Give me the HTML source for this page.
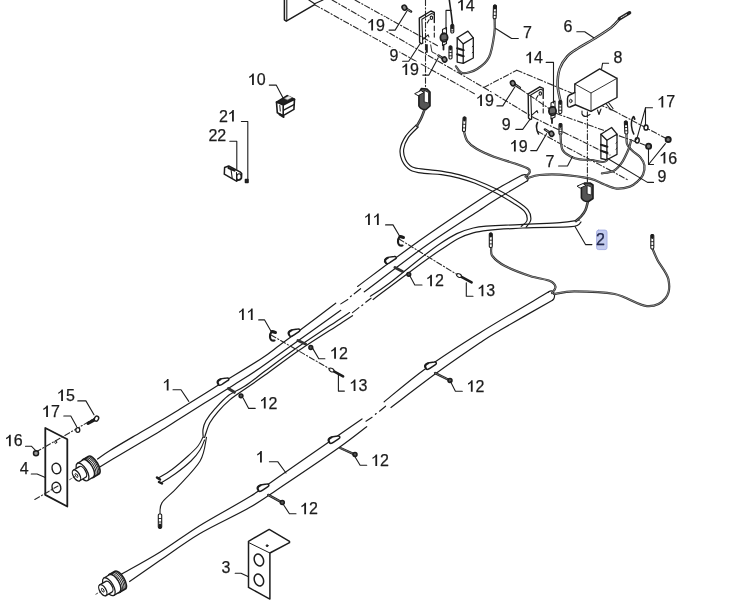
<!DOCTYPE html>
<html><head><meta charset="utf-8"><style>
html,body{margin:0;padding:0;background:#fff;width:743px;height:603px;overflow:hidden}
svg{display:block;will-change:transform}
text{font-family:"Liberation Sans",sans-serif;fill:#1c1c1c;stroke:#1c1c1c;stroke-width:0.25px}
</style></head><body>
<svg width="743" height="603" viewBox="0 0 743 603">
<g fill="none" stroke="#1c1c1c" stroke-linecap="round" stroke-linejoin="round">
<path d="M97.5,459.0 C99.6,457.6 102.9,454.9 110.0,450.5 C117.1,446.1 131.7,437.6 140.0,432.7 C148.3,427.8 153.3,425.1 160.0,421.1 C166.7,417.2 170.2,415.0 180.0,409.0 C189.8,403.0 205.2,393.2 218.5,385.0 C231.8,376.8 249.8,366.1 260.0,359.5 C270.2,352.9 273.3,349.8 279.6,345.2 C285.9,340.6 288.5,338.8 297.9,331.8 C307.2,324.8 329.4,308.0 335.7,303.2" stroke-width="1.2" />
<path d="M357.6,286.4 C368.0,278.7 399.6,254.7 420.0,240.2 C440.4,225.7 466.7,208.2 480.0,199.4 C493.3,190.6 493.0,191.2 500.0,187.2 C507.0,183.2 518.3,177.2 522.0,175.2" stroke-width="1.2" />
<path d="M99.8,467.0 C103.2,464.9 113.4,458.7 120.1,454.7 C126.8,450.7 133.3,446.9 140.0,443.0 C146.7,439.1 153.3,435.3 160.0,431.2 C166.7,427.1 172.8,423.1 180.0,418.6 C187.2,414.1 193.9,409.7 203.0,404.0 C212.1,398.3 225.0,390.5 234.5,384.5 C244.0,378.5 250.1,374.8 260.0,368.0 C269.9,361.2 280.4,353.4 293.9,343.8 C307.4,334.2 333.0,315.9 340.8,310.3" stroke-width="1.2" />
<path d="M364.3,291.8 C374.8,284.0 407.7,258.6 427.0,245.0 C446.3,231.3 467.8,217.9 480.0,209.9 C492.2,201.9 492.3,201.8 500.0,197.1 C507.7,192.4 521.8,184.1 526.2,181.5" stroke-width="1.2" />
<path d="M522,175.2 Q527,173 528,178 Q528.5,181 526.2,181.5" stroke-width="1.2" />
<path d="M203.2,437.5 C203.2,436.2 202.6,432.5 203.0,429.7 C203.4,426.9 203.9,424.3 205.9,420.8 C207.9,417.3 211.2,413.0 214.9,408.9 C218.6,404.8 222.8,399.7 227.8,395.9 C232.8,392.1 238.8,390.1 245.0,386.0 C251.2,381.9 256.4,377.5 265.0,371.1 C273.6,364.7 284.4,356.5 296.9,347.8 C309.4,339.1 331.2,324.8 340.0,318.9 C348.8,313.0 347.9,313.7 349.5,312.6" stroke-width="1.2" />
<path d="M204.6,437.5 C204.9,436.5 205.5,434.1 206.4,431.7 C207.3,429.2 208.0,426.1 209.9,422.8 C211.8,419.5 214.6,415.6 217.9,411.8 C221.2,408.0 225.3,403.7 229.8,399.9 C234.3,396.1 239.1,393.1 245.0,389.0 C250.9,384.9 255.8,381.6 265.0,375.1 C274.1,368.6 287.4,358.3 299.9,349.8 C312.4,341.3 331.2,329.6 340.0,323.9 C348.8,318.2 350.4,317.1 352.5,315.7" stroke-width="1.2" />
<path d="M370.4,296.2 C373.7,294.0 378.4,291.6 390.0,282.8 C401.6,274.1 426.1,252.8 440.0,243.7 C453.9,234.6 459.9,231.2 473.2,228.0 C486.5,224.8 505.1,225.5 519.6,224.6 C534.1,223.7 550.0,223.5 560.0,222.7 C570.0,221.9 576.3,220.4 579.6,220.0" stroke-width="1.2" />
<path d="M373.1,299.5 C375.9,297.4 378.9,295.0 390.0,286.8 C401.1,278.6 426.1,259.3 440.0,250.3 C453.9,241.3 459.4,236.6 473.2,232.9 C487.0,229.2 506.5,229.0 522.9,228.0 C539.3,227.0 561.8,227.7 571.5,226.7 C581.2,225.7 579.4,222.8 581.0,222.0" stroke-width="1.2" />
<path d="M202.8,437.5 C202.0,438.9 200.5,442.9 198.0,446.0 C195.5,449.1 192.3,452.1 188.0,456.0 C183.7,459.9 177.1,465.7 172.0,469.5 C166.9,473.3 159.8,477.1 157.3,478.6" stroke-width="1.1" />
<path d="M204.5,440.0 C203.8,441.7 202.2,446.5 200.0,450.0 C197.8,453.5 195.2,457.0 191.0,461.0 C186.8,465.0 180.1,470.3 175.0,474.0 C169.9,477.7 162.9,481.8 160.5,483.3" stroke-width="1.1" />
<path d="M206.5,437.3 C205.4,441.2 205.1,452.5 200.1,461.0 C195.1,469.5 182.8,481.3 176.4,488.3 C170.0,495.3 164.6,498.6 161.9,502.9 C159.2,507.1 160.3,512.0 160.0,513.8" stroke-width="1.1" />
<path d="M157,477.5 L160,479.5" stroke-width="2.5" />
<path d="M159,482 L162,483.5" stroke-width="2.5" />
<rect x="158.3" y="514" width="3.4" height="14" rx="1" fill="#fff" stroke-width="1.1"/>
<path d="M160,525 L160,527.5" stroke-width="3" />
<path d="M158.6,518.5 L161.4,518.5 M158.6,522 L161.4,522" stroke-width="0.9" />
<path d="M121.3,574.3 C127.7,570.6 146.8,560.4 159.8,552.3 C172.9,544.2 184.6,535.0 199.6,525.7 C214.6,516.4 236.1,505.1 250.0,496.5 C263.9,487.9 269.9,483.0 283.2,473.8 C296.5,464.6 316.5,450.6 329.6,441.5 C342.7,432.4 356.6,422.7 362.0,418.9" stroke-width="1.2" />
<path d="M129.6,581.5 C134.6,578.0 148.1,568.6 159.8,560.6 C171.5,552.6 184.6,542.6 199.6,533.7 C214.6,524.8 235.8,515.5 250.0,507.3 C264.2,499.1 269.9,494.6 284.8,484.6 C299.7,474.6 325.9,457.0 339.5,447.3 C353.1,437.6 362.2,430.1 366.7,426.7" stroke-width="1.2" />
<path d="M384.2,401.8 C391.1,396.2 409.8,379.9 425.8,368.4 C441.8,356.9 459.6,345.4 480.0,332.7 C500.4,320.0 537.0,298.9 548.4,292.1" stroke-width="1.2" />
<path d="M391.0,407.5 C398.6,401.8 421.7,383.9 436.5,373.1 C451.3,362.3 469.4,350.0 480.0,342.8 C490.6,335.6 487.9,337.3 500.0,330.2 C512.1,323.1 543.8,305.2 552.5,300.2" stroke-width="1.2" />
<path d="M548.4,292.1 Q553,289 554.5,294 Q555,298.5 552.5,300.2" stroke-width="1.2" />
<path d="M418.2,127.0 C416.6,128.7 410.8,133.7 408.4,137.4 C406.0,141.1 404.2,145.3 403.7,149.0 C403.2,152.7 404.1,156.5 405.5,159.5 C406.9,162.5 409.1,165.3 412.4,167.0 C415.7,168.7 420.4,168.7 425.2,169.4 C430.0,170.1 435.8,170.2 441.4,171.1 C447.0,172.0 453.3,173.1 458.9,174.6 C464.5,176.1 468.5,177.3 475.0,179.8 C481.5,182.3 491.2,186.4 498.0,189.8 C504.8,193.2 511.0,197.2 516.0,200.5 C521.0,203.8 525.3,206.5 527.8,209.7 C530.3,212.9 531.1,216.8 530.8,219.7 C530.5,222.6 527.0,225.9 526.2,227.1" stroke-width="1.2" />
<path d="M415.9,125.2 C414.2,127.1 408.1,132.3 405.5,136.3 C402.9,140.3 400.8,144.9 400.2,149.0 C399.6,153.1 400.4,157.1 402.0,160.6 C403.6,164.1 406.4,167.8 410.1,169.9 C413.8,172.0 418.8,172.6 424.0,173.4 C429.2,174.2 435.6,173.8 441.4,174.6 C447.2,175.4 453.3,176.6 458.9,178.1 C464.5,179.6 468.8,180.8 475.0,183.3 C481.2,185.8 490.1,189.9 496.4,193.2 C502.7,196.5 508.3,200.0 513.0,203.0 C517.7,206.0 522.2,208.5 524.5,211.4 C526.8,214.3 527.5,218.0 527.0,220.5 C526.5,223.0 522.2,225.3 521.2,226.3" stroke-width="1.2" />
<path d="M340.8,303.9 L347.8,299.5" stroke-width="1.1" />
<path d="M354.2,293.8 L360.6,288.7" stroke-width="1.1" />
<path d="M352.5,312.6 L358.9,307.6" stroke-width="1.1" />
<path d="M365.7,302.2 L371,298.2" stroke-width="1.1" />
<path d="M366,421.3 L372.1,417.3" stroke-width="1.1" />
<path d="M379.5,411.2 L385.6,406.2" stroke-width="1.1" />
<path d="M350.5,296.5 L351.29999999999995,295.9" stroke-width="1.3" />
<path d="M361.90000000000003,305.5 L362.7,304.9" stroke-width="1.3" />
<path d="M375.40000000000003,414.2 L376.2,413.59999999999997" stroke-width="1.3" />
<path d="M424.9,108.5 C424.3,110.0 422.8,114.6 421.5,117.5 C420.2,120.4 417.7,124.4 416.9,125.8" stroke-width="2.6" stroke="#2a2a2a"/>
<path d="M424.9,108.5 C424.3,110.0 422.8,114.6 421.5,117.5 C420.2,120.4 417.7,124.4 416.9,125.8" stroke-width="0.7" stroke="#fff" stroke-opacity="0.5"/>
<path d="M418.9,93 L418.9,106 Q421,110 426,109.5 L430,106 L430,92 L427,89 L421.5,88.5 Z" stroke-width="1.6" fill="#555"/>
<path d="M424.5,90.5 L428.5,92.5 L428.5,103 L424.5,102 Z" stroke-width="0.8" fill="#fff"/>
<path d="M415,93.5 L421,90.5 L424,92.5 L418.5,95.5 Z" stroke-width="1.0" fill="#fff"/>
<path d="M587.9,201.5 C587.5,202.9 586.6,207.5 585.5,210.0 C584.4,212.5 582.6,214.7 581.0,216.5 C579.4,218.3 576.8,220.2 576.0,221.0" stroke-width="2.6" stroke="#2a2a2a"/>
<path d="M587.9,201.5 C587.5,202.9 586.6,207.5 585.5,210.0 C584.4,212.5 582.6,214.7 581.0,216.5 C579.4,218.3 576.8,220.2 576.0,221.0" stroke-width="0.7" stroke="#fff" stroke-opacity="0.5"/>
<path d="M581.4,186 L581.4,198 Q583.5,202 588.5,201.5 L593,198.5 L593,185 L590,183 L584.5,183 Z" stroke-width="1.6" fill="#555"/>
<path d="M587.4,185.6 L591.3,187 L591.3,195 L587.4,194 Z" stroke-width="0.8" fill="#fff"/>
<path d="M577.4,186 L583,183.5 L586,185.5 L580.5,188 Z" stroke-width="1.0" fill="#fff"/>
<path d="M527.0,178.2 C529.1,177.7 534.0,175.6 539.5,175.0 C545.0,174.4 551.6,174.0 560.0,174.6 C568.4,175.2 582.8,177.0 590.0,178.6 C597.2,180.2 598.9,182.3 603.3,184.0 C607.7,185.7 612.1,188.2 616.5,188.6 C620.9,189.0 626.3,187.8 629.8,186.6 C633.3,185.4 635.5,183.3 637.7,181.3 C639.9,179.3 641.9,177.3 643.0,174.7 C644.1,172.0 644.8,168.3 644.4,165.4 C644.0,162.5 642.4,159.8 640.4,157.4 C638.4,155.0 634.6,153.0 632.4,150.8 C630.2,148.6 628.1,147.1 627.1,144.2 C626.1,141.3 626.6,135.4 626.5,133.6" stroke-width="2.2" stroke="#2a2a2a"/>
<path d="M527.0,178.2 C529.1,177.7 534.0,175.6 539.5,175.0 C545.0,174.4 551.6,174.0 560.0,174.6 C568.4,175.2 582.8,177.0 590.0,178.6 C597.2,180.2 598.9,182.3 603.3,184.0 C607.7,185.7 612.1,188.2 616.5,188.6 C620.9,189.0 626.3,187.8 629.8,186.6 C633.3,185.4 635.5,183.3 637.7,181.3 C639.9,179.3 641.9,177.3 643.0,174.7 C644.1,172.0 644.8,168.3 644.4,165.4 C644.0,162.5 642.4,159.8 640.4,157.4 C638.4,155.0 634.6,153.0 632.4,150.8 C630.2,148.6 628.1,147.1 627.1,144.2 C626.1,141.3 626.6,135.4 626.5,133.6" stroke-width="0.6" stroke="#fff" stroke-opacity="0.75"/>
<path d="M525.6,176.6 C526.3,175.9 529.2,173.9 529.6,172.6 C530.0,171.3 530.4,170.1 528.2,168.7 C526.0,167.3 522.0,166.0 516.3,164.0 C510.6,162.0 500.4,159.2 493.8,156.7 C487.2,154.2 480.9,151.5 476.5,148.8 C472.1,146.2 469.3,143.8 467.2,140.8 C465.1,137.8 464.4,132.6 463.9,131.0" stroke-width="2.2" stroke="#2a2a2a"/>
<path d="M525.6,176.6 C526.3,175.9 529.2,173.9 529.6,172.6 C530.0,171.3 530.4,170.1 528.2,168.7 C526.0,167.3 522.0,166.0 516.3,164.0 C510.6,162.0 500.4,159.2 493.8,156.7 C487.2,154.2 480.9,151.5 476.5,148.8 C472.1,146.2 469.3,143.8 467.2,140.8 C465.1,137.8 464.4,132.6 463.9,131.0" stroke-width="0.6" stroke="#fff" stroke-opacity="0.75"/>
<g transform="translate(464.6,117) rotate(2.7638573709127376)"><rect x="-1.5" y="0" width="3" height="14.5" rx="1.2" fill="#fff" stroke-width="1.1"/><path d="M0,0.9 L0,3" stroke-width="2.8"/><path d="M-1.3,7.3 L1.3,7.3 M-1.3,10.9 L1.3,10.9" stroke-width="0.9"/></g>
<path d="M491.2,247.5 C491.4,248.9 490.1,252.9 492.4,256.0 C494.7,259.1 498.7,262.7 505.0,266.0 C511.3,269.3 522.5,273.5 530.0,276.0 C537.5,278.5 545.8,279.2 550.0,281.0 C554.2,282.8 555.2,285.0 555.5,287.0 C555.8,289.0 552.6,292.0 552.0,293.0" stroke-width="2.2" stroke="#2a2a2a"/>
<path d="M491.2,247.5 C491.4,248.9 490.1,252.9 492.4,256.0 C494.7,259.1 498.7,262.7 505.0,266.0 C511.3,269.3 522.5,273.5 530.0,276.0 C537.5,278.5 545.8,279.2 550.0,281.0 C554.2,282.8 555.2,285.0 555.5,287.0 C555.8,289.0 552.6,292.0 552.0,293.0" stroke-width="0.6" stroke="#fff" stroke-opacity="0.75"/>
<g transform="translate(490.8,233) rotate(-0.0)"><rect x="-1.5" y="0" width="3" height="14.5" rx="1.2" fill="#fff" stroke-width="1.1"/><path d="M0,0.9 L0,3" stroke-width="2.8"/><path d="M-1.3,7.2 L1.3,7.2 M-1.3,10.9 L1.3,10.9" stroke-width="0.9"/></g>
<path d="M554.0,294.0 C557.4,293.6 564.1,291.3 574.2,291.3 C584.3,291.3 602.5,291.5 614.6,294.0 C626.7,296.5 638.4,305.4 646.9,306.1 C655.4,306.8 662.1,302.5 665.7,298.0 C669.3,293.5 669.7,285.5 668.4,279.2 C667.1,272.9 660.4,265.5 657.7,260.4 C655.0,255.2 653.2,250.3 652.3,248.3" stroke-width="2.2" stroke="#2a2a2a"/>
<path d="M554.0,294.0 C557.4,293.6 564.1,291.3 574.2,291.3 C584.3,291.3 602.5,291.5 614.6,294.0 C626.7,296.5 638.4,305.4 646.9,306.1 C655.4,306.8 662.1,302.5 665.7,298.0 C669.3,293.5 669.7,285.5 668.4,279.2 C667.1,272.9 660.4,265.5 657.7,260.4 C655.0,255.2 653.2,250.3 652.3,248.3" stroke-width="0.6" stroke="#fff" stroke-opacity="0.75"/>
<g transform="translate(652.3,234.5) rotate(-0.0)"><rect x="-1.5" y="0" width="3" height="14.5" rx="1.2" fill="#fff" stroke-width="1.1"/><path d="M0,0.9 L0,3" stroke-width="2.8"/><path d="M-1.3,7.2 L1.3,7.2 M-1.3,10.9 L1.3,10.9" stroke-width="0.9"/></g>
<g transform="translate(390.4,260) rotate(-30)"><path d="M-5.5,0.5 C-6.5,-3 -4,-4.2 -1,-3.6 L5,-1.2 C7,-0.5 6.8,1.6 4.8,1.6 L-1.5,2 C-4,2.3 -5.2,2 -5.5,0.5 Z" fill="#fff" stroke-width="1.5"/><path d="M-5.2,0 C-5.5,-2.5 -3.5,-3.5 -1,-3" stroke-width="1.8"/></g>
<path d="M395,267.5 L402.5,271.5" stroke-width="3.0" stroke="#333"/>
<circle cx="408.8" cy="274.3" r="1.9" fill="#555" stroke-width="1.5"/>
<g transform="translate(294,332.6) rotate(-30)"><path d="M-5.5,0.5 C-6.5,-3 -4,-4.2 -1,-3.6 L5,-1.2 C7,-0.5 6.8,1.6 4.8,1.6 L-1.5,2 C-4,2.3 -5.2,2 -5.5,0.5 Z" fill="#fff" stroke-width="1.5"/><path d="M-5.2,0 C-5.5,-2.5 -3.5,-3.5 -1,-3" stroke-width="1.8"/></g>
<path d="M298,340.5 L305.5,344" stroke-width="3.0" stroke="#333"/>
<circle cx="310.8" cy="347.5" r="1.9" fill="#555" stroke-width="1.5"/>
<g transform="translate(223,381.5) rotate(-30)"><path d="M-5.5,0.5 C-6.5,-3 -4,-4.2 -1,-3.6 L5,-1.2 C7,-0.5 6.8,1.6 4.8,1.6 L-1.5,2 C-4,2.3 -5.2,2 -5.5,0.5 Z" fill="#fff" stroke-width="1.5"/><path d="M-5.2,0 C-5.5,-2.5 -3.5,-3.5 -1,-3" stroke-width="1.8"/></g>
<path d="M228.4,388.5 L234.4,392.3" stroke-width="3.0" stroke="#333"/>
<circle cx="241" cy="395.8" r="1.9" fill="#555" stroke-width="1.5"/>
<g transform="translate(430.5,365.6) rotate(-30)"><path d="M-5.5,0.5 C-6.5,-3 -4,-4.2 -1,-3.6 L5,-1.2 C7,-0.5 6.8,1.6 4.8,1.6 L-1.5,2 C-4,2.3 -5.2,2 -5.5,0.5 Z" fill="#fff" stroke-width="1.5"/><path d="M-5.2,0 C-5.5,-2.5 -3.5,-3.5 -1,-3" stroke-width="1.8"/></g>
<path d="M435.2,373.1 L450,380.5" stroke-width="2.4" />
<path d="M435.2,373.1 L450,380.5" stroke-width="0.7" stroke="#fff" stroke-opacity="0.6" stroke-dasharray="1 1"/>
<circle cx="450" cy="380.5" r="2.0" fill="#555" stroke-width="1.5"/>
<g transform="translate(334,439.6) rotate(-30)"><path d="M-5.5,0.5 C-6.5,-3 -4,-4.2 -1,-3.6 L5,-1.2 C7,-0.5 6.8,1.6 4.8,1.6 L-1.5,2 C-4,2.3 -5.2,2 -5.5,0.5 Z" fill="#fff" stroke-width="1.5"/><path d="M-5.2,0 C-5.5,-2.5 -3.5,-3.5 -1,-3" stroke-width="1.8"/></g>
<path d="M340.3,448 L355,454.6" stroke-width="2.4" />
<path d="M340.3,448 L355,454.6" stroke-width="0.7" stroke="#fff" stroke-opacity="0.6" stroke-dasharray="1 1"/>
<circle cx="355" cy="454.6" r="2.0" fill="#555" stroke-width="1.5"/>
<g transform="translate(263,487.6) rotate(-30)"><path d="M-5.5,0.5 C-6.5,-3 -4,-4.2 -1,-3.6 L5,-1.2 C7,-0.5 6.8,1.6 4.8,1.6 L-1.5,2 C-4,2.3 -5.2,2 -5.5,0.5 Z" fill="#fff" stroke-width="1.5"/><path d="M-5.2,0 C-5.5,-2.5 -3.5,-3.5 -1,-3" stroke-width="1.8"/></g>
<path d="M268.2,494.9 L282.3,502.6" stroke-width="2.4" />
<path d="M268.2,494.9 L282.3,502.6" stroke-width="0.7" stroke="#fff" stroke-opacity="0.6" stroke-dasharray="1 1"/>
<circle cx="282.3" cy="502.6" r="2.0" fill="#555" stroke-width="1.5"/>
<path d="M403,237 C400,235.5 397.5,238 398,242 C398.2,245 400,246 402.5,245.5" stroke-width="2.2"/>
<path d="M400,236.5 L403.5,237.5" stroke-width="3" />
<path d="M275,332 C272,330.5 269.5,333 270,337 C270.2,340 272,341 274.5,340.5" stroke-width="2.2"/>
<path d="M272,331.5 L275.5,332.5" stroke-width="3" />
<path d="M385.6,224.9 L393.0,224.9 L399.7,236.3" stroke-width="1.1" />
<path d="M258.7,319.9 L264.6,319.9 L271.2,331.5" stroke-width="1.1" />
<path d="M461,276.6 L471.6,282.3" stroke-width="2.6" />
<ellipse cx="459" cy="275.5" rx="2.6" ry="1.6" transform="rotate(29 459 275.5)" fill="#fff" stroke-width="1.1"/>
<path d="M333.5,371.1 L343.1,376.3" stroke-width="2.6" />
<ellipse cx="331.5" cy="370" rx="2.6" ry="1.6" transform="rotate(29 331.5 370)" fill="#fff" stroke-width="1.1"/>
<path d="M399,239 L457,274.5" stroke-width="1.1" stroke-dasharray="5.5 2.2 1.2 2.2" stroke="#2a2a2a"/>
<path d="M271,335 L330,369" stroke-width="1.1" stroke-dasharray="5.5 2.2 1.2 2.2" stroke="#2a2a2a"/>
<g transform="translate(76.5,475.5) rotate(-31)"><path d="M13.5,-10.3 L20,-10.3 A4.3260000000000005,10.3 0 0 1 20,10.3 L13.5,10.3 Z" fill="#fff" stroke-width="1.6"/><ellipse cx="13.5" cy="0" rx="4.3260000000000005" ry="10.3" fill="#fff" stroke-width="1.6"/><path d="M15.5,-10.1 A4.3,10.1 0 0 1 15.5,10.1" stroke-width="0.9"/><path d="M17.2,-10.1 A4.3,10.1 0 0 1 17.2,10.1" stroke-width="0.9"/><path d="M18.7,-10.1 A4.3,10.1 0 0 1 18.7,10.1" stroke-width="0.9"/><path d="M7,-10 L13.5,-10 A4.5,10 0 0 1 13.5,10 L7,10 Z" fill="#fff" stroke-width="1.3"/><ellipse cx="7" cy="0" rx="4.5" ry="10" fill="#fff" stroke-width="1.3"/><path d="M0,-6.2 L7,-6.2 A3.1,6.2 0 0 1 7,6.2 L0,6.2 Z" fill="#fff" stroke-width="1.3"/><ellipse cx="0" cy="0" rx="3.1" ry="6.2" fill="#fff" stroke-width="1.3"/><ellipse cx="0" cy="0" rx="1" ry="2.2" stroke-width="0.8"/><path d="M-8,0 L-1,0" stroke-width="0.7" stroke-dasharray="2 2"/></g>
<g transform="translate(102.8,590.2) rotate(-30)"><path d="M13.5,-10.3 L20,-10.3 A4.3260000000000005,10.3 0 0 1 20,10.3 L13.5,10.3 Z" fill="#fff" stroke-width="1.6"/><ellipse cx="13.5" cy="0" rx="4.3260000000000005" ry="10.3" fill="#fff" stroke-width="1.6"/><path d="M15.5,-10.1 A4.3,10.1 0 0 1 15.5,10.1" stroke-width="0.9"/><path d="M17.2,-10.1 A4.3,10.1 0 0 1 17.2,10.1" stroke-width="0.9"/><path d="M18.7,-10.1 A4.3,10.1 0 0 1 18.7,10.1" stroke-width="0.9"/><path d="M7,-10 L13.5,-10 A4.5,10 0 0 1 13.5,10 L7,10 Z" fill="#fff" stroke-width="1.3"/><ellipse cx="7" cy="0" rx="4.5" ry="10" fill="#fff" stroke-width="1.3"/><path d="M0,-6.2 L7,-6.2 A3.1,6.2 0 0 1 7,6.2 L0,6.2 Z" fill="#fff" stroke-width="1.3"/><ellipse cx="0" cy="0" rx="3.1" ry="6.2" fill="#fff" stroke-width="1.3"/><ellipse cx="0" cy="0" rx="1" ry="2.2" stroke-width="0.8"/><path d="M-8,0 L-1,0" stroke-width="0.7" stroke-dasharray="2 2"/></g>
<path d="M45.3,428 L67.3,439.2 L67.3,506.5 L45.3,494.9 Z" stroke-width="1.8" fill="#fff"/>
<ellipse cx="56.4" cy="468.5" rx="4.3" ry="5.3" transform="rotate(-15 56.4 468.5)" stroke-width="1.5"/>
<ellipse cx="56.4" cy="487.5" rx="4.3" ry="5.3" transform="rotate(-15 56.4 487.5)" stroke-width="1.5"/>
<ellipse cx="55.7" cy="442.2" rx="1" ry="1.3" stroke-width="0.9"/>
<path d="M36,452 L97,417" stroke-width="1.1" stroke-dasharray="5.5 2.2 1.2 2.2" stroke="#2a2a2a"/>
<path d="M34.8,499.5 L58,486" stroke-width="1.1" stroke-dasharray="5.5 2.2 1.2 2.2" stroke="#2a2a2a"/>
<circle cx="36" cy="453.3" r="2.5" fill="#999" stroke-width="1.5"/>
<ellipse cx="77.8" cy="430" rx="2" ry="2.4" fill="#fff" stroke-width="1.3"/>
<path d="M88,423.3 L95,419.5" stroke-width="3.2" />
<ellipse cx="96.5" cy="418.6" rx="2" ry="2.6" transform="rotate(30 96.5 418.6)" fill="#fff" stroke-width="1.4"/>
<path d="M248.5,541.3 L269.2,529.4 L289.5,541.3 L289.5,542.7 L269.9,553 L269.9,599.1 L248.5,587.4 Z" stroke-width="1.5" fill="#fff"/>
<path d="M249.5,543 L269.9,553" stroke-width="1.0" />
<ellipse cx="258.9" cy="560" rx="4.5" ry="6.2" transform="rotate(-20 258.9 560)" stroke-width="1.5"/>
<ellipse cx="258.9" cy="580" rx="4.5" ry="6.2" transform="rotate(-20 258.9 580)" stroke-width="1.5"/>
<circle cx="267.1" cy="545.7" r="1" fill="#222" stroke-width="0.8"/>
<path d="M276.5,102.1 L287.2,95.6 L294.5,99.3 L283.2,105 Z" stroke-width="1.6" fill="#222"/>
<path d="M285,98.2 L288.8,96.2 L291.5,97.6 L287.6,99.6 Z" stroke-width="0.5" fill="#eee" stroke="#eee"/>
<path d="M283.2,105 L294.5,99.3 L293.9,109.4 L283.2,115.6 Z" stroke-width="1.6" fill="#fff"/>
<path d="M283.2,110.3 L294,104.6" stroke-width="1.4" />
<path d="M276.5,102.1 L283.2,105 L283.2,115.6 L277.3,112.8 Z" stroke-width="1.6" fill="#fff"/>
<path d="M279.8,105.5 L280.3,111" stroke-width="1.0" />
<path d="M279.5,114.3 L283.5,116.8" stroke-width="2.2" />
<path d="M224.6,167.5 L228.7,166 L240,171.9 L241.7,173.6 L241.5,178.3 L236.5,181.2 L224.3,174.2 Z" stroke-width="1.5" fill="#fff"/>
<path d="M231,169.2 L232.2,178" stroke-width="1.1" />
<path d="M228.5,168 L234.5,170.6" stroke-width="2.2" />
<path d="M236.5,172.5 L236.5,181" stroke-width="1.0" />
<ellipse cx="239" cy="177" rx="2.2" ry="3.3" stroke-width="1.1"/>
<path d="M245.5,179.5 L248,179.5 L248,182.5 L245.5,182.5 Z" stroke-width="1.6" fill="#333"/>
<path d="M284.4,0 L284.4,19.8 L286.3,21.2 L314.6,4.7" stroke-width="1.5" />
<path d="M286.8,0 L286.8,20.5" stroke-width="1.1" />
<path d="M308.9,0 L314.6,3.8 L323,0" stroke-width="1.2" />
<path d="M314.6,4.7 L474.4,93.7" stroke-width="1.1" stroke-dasharray="5.5 2.2 1.2 2.2" stroke="#2a2a2a"/>
<path d="M332.1,0 L483.8,87.5" stroke-width="1.1" stroke-dasharray="5.5 2.2 1.2 2.2" stroke="#2a2a2a"/>
<path d="M355,0 L438,46" stroke-width="1.1" stroke-dasharray="5.5 2.2 1.2 2.2" stroke="#2a2a2a"/>
<path d="M483.8,87.5 L533.3,117.4" stroke-width="1.1" stroke-dasharray="5.5 2.2 1.2 2.2" stroke="#2a2a2a"/>
<path d="M533.3,117.4 L610,155" stroke-width="1.1" stroke-dasharray="5.5 2.2 1.2 2.2" stroke="#2a2a2a"/>
<path d="M483.8,87.5 L516.8,70.2" stroke-width="1.1" stroke-dasharray="5.5 2.2 1.2 2.2" stroke="#2a2a2a"/>
<path d="M516.8,70.2 L612.3,110" stroke-width="1.1" stroke-dasharray="5.5 2.2 1.2 2.2" stroke="#2a2a2a"/>
<path d="M612.3,110 L668.2,139.6" stroke-width="1.1" stroke-dasharray="5.5 2.2 1.2 2.2" stroke="#2a2a2a"/>
<path d="M520.4,89 L556.5,113.6" stroke-width="1.1" stroke-dasharray="5.5 2.2 1.2 2.2" stroke="#2a2a2a"/>
<path d="M556.5,113.6 L648.6,146.3" stroke-width="1.1" stroke-dasharray="5.5 2.2 1.2 2.2" stroke="#2a2a2a"/>
<path d="M425.5,0 L425.5,88" stroke-width="1.1" stroke-dasharray="5.5 2.2 1.2 2.2" stroke="#2a2a2a"/>
<path d="M587.4,111.7 L587.4,182" stroke-width="1.1" stroke-dasharray="5.5 2.2 1.2 2.2" stroke="#2a2a2a"/>
<path d="M538,131.5 L567.1,147.4" stroke-width="1.1" stroke-dasharray="5.5 2.2 1.2 2.2" stroke="#2a2a2a"/>
<path d="M567.1,147.4 L609.6,170" stroke-width="1.1" stroke-dasharray="5.5 2.2 1.2 2.2" stroke="#2a2a2a"/>
<path d="M609.6,170 L628,180" stroke-width="1.1" stroke-dasharray="5.5 2.2 1.2 2.2" stroke="#2a2a2a"/>
<g transform="translate(419.3,18.1) scale(1.0)"><path d="M15,4.5 L15,-5.6 L11.6,-7.1 L0,0 L0.3,24.2 L1.9,25.7 L3.4,25" stroke-width="1.4"/><path d="M2.6,1.1 L3.4,25 M2.6,1.1 L12.2,-4.6 L15,-3.6" stroke-width="1.1"/><ellipse cx="12.1" cy="-0.3" rx="1.2" ry="1.7" stroke-width="1.1"/><path d="M7.9,4.8 L9.8,1.6 M3.6,21.2 L8.8,16.8 L9.6,18.8 M15,8 L15,12.5 M15,15 L15,19" stroke-width="1.1"/></g>
<g transform="translate(528.2,93.9) scale(1.0)"><path d="M15,4.5 L15,-5.6 L11.6,-7.1 L0,0 L0.3,24.2 L1.9,25.7 L3.4,25" stroke-width="1.4"/><path d="M2.6,1.1 L3.4,25 M2.6,1.1 L12.2,-4.6 L15,-3.6" stroke-width="1.1"/><ellipse cx="12.1" cy="-0.3" rx="1.2" ry="1.7" stroke-width="1.1"/><path d="M7.9,4.8 L9.8,1.6 M3.6,21.2 L8.8,16.8 L9.6,18.8 M15,8 L15,12.5 M15,15 L15,19" stroke-width="1.1"/></g>
<path d="M404.4,7.6 L411,11.5" stroke-width="2.6" />
<path d="M404.4,7.6 L411,11.5" stroke-width="0.8" stroke="#fff" stroke-opacity="0.7" stroke-dasharray="1 1"/>
<ellipse cx="404.4" cy="7.6" rx="2.2" ry="2.6" transform="rotate(-30 404.4 7.6)" fill="#888" stroke-width="1.6"/>
<path d="M444.5,59.5 L438.5,55.5" stroke-width="2.6" />
<path d="M444.5,59.5 L438.5,55.5" stroke-width="0.8" stroke="#fff" stroke-opacity="0.7" stroke-dasharray="1 1"/>
<ellipse cx="444.5" cy="59.5" rx="2.2" ry="2.6" transform="rotate(-30 444.5 59.5)" fill="#888" stroke-width="1.6"/>
<path d="M512.8,83.2 L519.8,87.8" stroke-width="2.6" />
<path d="M512.8,83.2 L519.8,87.8" stroke-width="0.8" stroke="#fff" stroke-opacity="0.7" stroke-dasharray="1 1"/>
<ellipse cx="512.8" cy="83.2" rx="2.2" ry="2.6" transform="rotate(-30 512.8 83.2)" fill="#888" stroke-width="1.6"/>
<path d="M551.5,133.8 L545,129.5" stroke-width="2.6" />
<path d="M551.5,133.8 L545,129.5" stroke-width="0.8" stroke="#fff" stroke-opacity="0.7" stroke-dasharray="1 1"/>
<ellipse cx="551.5" cy="133.8" rx="2.2" ry="2.6" transform="rotate(-30 551.5 133.8)" fill="#888" stroke-width="1.6"/>
<g transform="translate(440.5,29.5)"><path d="M2,0 L6,-2 L6,14 L2,16 Z" stroke-width="1.1" fill="#fff"/><ellipse cx="3.5" cy="8" rx="3.6" ry="4.3" fill="#666" stroke-width="1.8"/><path d="M1,5 L6,4 M0.5,11 L6,10" stroke-width="0.9"/><path d="M3,16 L3,20" stroke-width="1.8"/></g>
<g transform="translate(549,103)"><path d="M2,0 L6,-2 L6,14 L2,16 Z" stroke-width="1.1" fill="#fff"/><ellipse cx="3.5" cy="8" rx="3.6" ry="4.3" fill="#666" stroke-width="1.8"/><path d="M1,5 L6,4 M0.5,11 L6,10" stroke-width="0.9"/><path d="M3,16 L3,20" stroke-width="1.8"/></g>
<path d="M553.5,103 L553.5,62.4 L546.2,62.4" stroke-width="1.1" />
<g transform="translate(457.2,37.8) scale(1.0)"><path d="M0,0 L10.7,-6.7 L16.1,0 L6,6.1 Z" fill="#fff" stroke-width="1.3"/><path d="M0,0 L0,24.3 L6,25.6 L16.1,20.2 L16.1,0 M6,6.1 L6,25.6" stroke-width="1.3" fill="none"/><path d="M0,10.5 L6.5,12.5 M0,16.5 L6.5,18.5" stroke-width="2.0"/><path d="M16.1,8 L15,9 M16.1,14 L15,15" stroke-width="0.9"/></g>
<g transform="translate(600.9,134.2) scale(1.0)"><path d="M0,0 L10.7,-6.7 L16.1,0 L6,6.1 Z" fill="#fff" stroke-width="1.3"/><path d="M0,0 L0,24.3 L6,25.6 L16.1,20.2 L16.1,0 M6,6.1 L6,25.6" stroke-width="1.3" fill="none"/><path d="M0,10.5 L6.5,12.5 M0,16.5 L6.5,18.5" stroke-width="2.0"/><path d="M16.1,8 L15,9 M16.1,14 L15,15" stroke-width="0.9"/></g>
<path d="M574.8,84 L574.8,104.5 L591,111.3 L617,97.5 L617,78.3 L599.7,68.9 Z" stroke-width="0.1" fill="#fff" stroke="none"/>
<path d="M574.8,84 L599.7,68.9 L617,78.3 L617,97.5 L591,111.3 L574.8,104.5 Z" stroke-width="1.4" />
<path d="M574.8,84 L591,93 L617,78.3 M591,93 L591,111.3" stroke-width="0.9" />
<path d="M574.8,92.5 L569.5,95 Q567.5,96 567.5,98.5 L567.5,105 Q567.5,107.5 570,107 L574.8,105" stroke-width="1.4" fill="#fff"/>
<ellipse cx="570.8" cy="101" rx="1.2" ry="1.8" stroke-width="0.9"/>
<path d="M582,111 L582,114 Q583,116.5 586,116.5 L590,114.5 M597.5,110 L599,114.5 L601,109 M606,103.5 L611,110 M608.5,102.5 L613,108.5" stroke-width="1.1" />
<path d="M620.0,18.5 C618.6,19.9 615.7,23.9 611.5,27.2 C607.3,30.5 600.1,35.0 594.6,38.5 C589.1,42.0 583.1,45.0 578.5,48.0 C573.9,51.0 570.3,52.9 567.2,56.4 C564.1,59.9 561.3,63.9 559.7,68.7 C558.1,73.5 557.5,79.7 557.6,85.0 C557.7,90.3 559.8,97.9 560.3,100.5" stroke-width="2.6" stroke="#2a2a2a"/>
<path d="M620.0,18.5 C618.6,19.9 615.7,23.9 611.5,27.2 C607.3,30.5 600.1,35.0 594.6,38.5 C589.1,42.0 583.1,45.0 578.5,48.0 C573.9,51.0 570.3,52.9 567.2,56.4 C564.1,59.9 561.3,63.9 559.7,68.7 C558.1,73.5 557.5,79.7 557.6,85.0 C557.7,90.3 559.8,97.9 560.3,100.5" stroke-width="0.9" stroke="#fff" stroke-opacity="0.75"/>
<path d="M619.5,18.8 L629.5,12.8" stroke-width="3.6" stroke="#222"/>
<path d="M621,17.8 L627,14.3" stroke-width="1" stroke="#fff" stroke-opacity="0.8" stroke-dasharray="1.5 1"/>
<path d="M494.6,18.6 C494.6,21.0 495.3,26.8 494.4,33.2 C493.5,39.6 492.0,51.0 489.1,57.0 C486.2,63.0 481.5,66.3 477.1,69.0 C472.7,71.7 466.0,73.5 462.5,73.0 C459.0,72.5 457.0,67.4 455.9,66.3" stroke-width="2.2" stroke="#2a2a2a"/>
<path d="M494.6,18.6 C494.6,21.0 495.3,26.8 494.4,33.2 C493.5,39.6 492.0,51.0 489.1,57.0 C486.2,63.0 481.5,66.3 477.1,69.0 C472.7,71.7 466.0,73.5 462.5,73.0 C459.0,72.5 457.0,67.4 455.9,66.3" stroke-width="0.6" stroke="#fff" stroke-opacity="0.75"/>
<g transform="translate(495,5) rotate(1.660282368982711)"><rect x="-1.5" y="0" width="3" height="13.8" rx="1.2" fill="#fff" stroke-width="1.1"/><path d="M0,0.9 L0,3" stroke-width="2.8"/><path d="M-1.3,6.9 L1.3,6.9 M-1.3,10.4 L1.3,10.4" stroke-width="0.9"/></g>
<path d="M449.3,0.0 C449.6,2.0 450.4,7.8 451.0,12.0 C451.6,16.2 452.3,23.0 452.6,25.2" stroke-width="1.6" />
<g transform="translate(452.3,24.5) rotate(-0.0)"><rect x="-1.5" y="0" width="3" height="8.5" rx="1.2" fill="#fff" stroke-width="1.1"/><path d="M0,0.9 L0,3" stroke-width="2.8"/><path d="M-1.3,4.2 L1.3,4.2 M-1.3,6.4 L1.3,6.4" stroke-width="0.9"/></g>
<g transform="translate(450.5,46) rotate(-0.0)"><rect x="-1.5" y="0" width="3" height="13.0" rx="1.2" fill="#fff" stroke-width="1.1"/><path d="M0,0.9 L0,3" stroke-width="2.8"/><path d="M-1.3,6.5 L1.3,6.5 M-1.3,9.8 L1.3,9.8" stroke-width="0.9"/></g>
<g transform="translate(560.3,100.5) rotate(-0.0)"><rect x="-1.5" y="0" width="3" height="13.0" rx="1.2" fill="#fff" stroke-width="1.1"/><path d="M0,0.9 L0,3" stroke-width="2.8"/><path d="M-1.3,6.5 L1.3,6.5 M-1.3,9.8 L1.3,9.8" stroke-width="0.9"/></g>
<g transform="translate(560.5,123.5) rotate(-0.0)"><rect x="-1.5" y="0" width="3" height="11.0" rx="1.2" fill="#fff" stroke-width="1.1"/><path d="M0,0.9 L0,3" stroke-width="2.8"/><path d="M-1.3,5.5 L1.3,5.5 M-1.3,8.2 L1.3,8.2" stroke-width="0.9"/></g>
<path d="M560.5,134.3 C560.9,136.9 560.3,146.1 562.7,150.1 C565.1,154.1 570.1,156.5 574.8,158.2 C579.5,159.9 588.3,159.9 591.0,160.2" stroke-width="2.2" stroke="#2a2a2a"/>
<path d="M560.5,134.3 C560.9,136.9 560.3,146.1 562.7,150.1 C565.1,154.1 570.1,156.5 574.8,158.2 C579.5,159.9 588.3,159.9 591.0,160.2" stroke-width="0.6" stroke="#fff" stroke-opacity="0.75"/>
<g transform="translate(625.8,121) rotate(-2.642545294064824)"><rect x="-1.5" y="0" width="3" height="13.0" rx="1.2" fill="#fff" stroke-width="1.1"/><path d="M0,0.9 L0,3" stroke-width="2.8"/><path d="M-1.3,6.5 L1.3,6.5 M-1.3,9.8 L1.3,9.8" stroke-width="0.9"/></g>
<path d="M631.1,140.2 C630.6,141.8 630.0,145.8 628.4,149.5 C626.8,153.2 624.2,159.2 621.8,162.7 C619.4,166.2 617.2,168.9 613.9,170.7 C610.6,172.5 603.9,172.9 601.9,173.3" stroke-width="2.2" stroke="#2a2a2a"/>
<path d="M631.1,140.2 C630.6,141.8 630.0,145.8 628.4,149.5 C626.8,153.2 624.2,159.2 621.8,162.7 C619.4,166.2 617.2,168.9 613.9,170.7 C610.6,172.5 603.9,172.9 601.9,173.3" stroke-width="0.6" stroke="#fff" stroke-opacity="0.75"/>
<path d="M633.5,116.5 Q631,119 631.5,126 Q632,131 633.8,134" stroke-width="1.5" />
<path d="M633.8,117 L634.6,119" stroke-width="2" />
<path d="M592.7,160.1 C594.5,160.4 600.9,162.1 603.3,162.1 C605.7,162.1 606.6,160.4 607.2,160.1" stroke-width="2.0" stroke="#2a2a2a"/>
<path d="M592.7,160.1 C594.5,160.4 600.9,162.1 603.3,162.1 C605.7,162.1 606.6,160.4 607.2,160.1" stroke-width="0.5" stroke="#fff" stroke-opacity="0.75"/>
<ellipse cx="646" cy="127.5" rx="2" ry="2.6" fill="#fff" stroke-width="1.5"/>
<ellipse cx="637.2" cy="140.3" rx="2" ry="2.6" fill="#fff" stroke-width="1.5"/>
<circle cx="648.6" cy="146.3" r="2.6" fill="#777" stroke-width="1.8"/>
<circle cx="668.2" cy="139.6" r="2.6" fill="#777" stroke-width="1.8"/>
<path d="M537.5,122.5 Q535,127 538.5,134" stroke-width="1.6" />
<path d="M426.9,45 L426.9,52" stroke-width="1.8" />
<path d="M430.7,44.9 L431.9,51.9 L436,54" stroke-width="0.9" />
<rect x="220.6" y="559.6" width="10.7" height="15.2" fill="#fff" stroke="none"/>
<rect x="247.1" y="71.5" width="19.6" height="15.2" fill="#fff" stroke="none"/>
<rect x="218.2" y="107.9" width="19.6" height="15.2" fill="#fff" stroke="none"/>
<rect x="207.6" y="127.6" width="19.6" height="15.2" fill="#fff" stroke="none"/>
<rect x="366.3" y="16.9" width="19.6" height="15.2" fill="#fff" stroke="none"/>
<rect x="388.7" y="47.4" width="10.7" height="15.2" fill="#fff" stroke="none"/>
<rect x="400.4" y="61.5" width="19.6" height="15.2" fill="#fff" stroke="none"/>
<rect x="456.1" y="-3.0" width="19.6" height="15.2" fill="#fff" stroke="none"/>
<rect x="522.1" y="24.7" width="10.7" height="15.2" fill="#fff" stroke="none"/>
<rect x="475.2" y="92.3" width="19.6" height="15.2" fill="#fff" stroke="none"/>
<rect x="501.0" y="116.2" width="10.7" height="15.2" fill="#fff" stroke="none"/>
<rect x="509.0" y="138.0" width="19.6" height="15.2" fill="#fff" stroke="none"/>
<rect x="544.8" y="153.0" width="10.7" height="15.2" fill="#fff" stroke="none"/>
<rect x="524.3" y="49.7" width="19.6" height="15.2" fill="#fff" stroke="none"/>
<rect x="562.6" y="18.3" width="10.7" height="15.2" fill="#fff" stroke="none"/>
<rect x="612.6" y="49.2" width="10.7" height="15.2" fill="#fff" stroke="none"/>
<rect x="656.5" y="93.8" width="19.6" height="15.2" fill="#fff" stroke="none"/>
<rect x="658.6" y="149.9" width="19.6" height="15.2" fill="#fff" stroke="none"/>
<rect x="656.6" y="168.8" width="10.7" height="15.2" fill="#fff" stroke="none"/>
<rect x="363.1" y="211.3" width="19.6" height="15.2" fill="#fff" stroke="none"/>
<rect x="465.9" y="378.1" width="19.6" height="15.2" fill="#fff" stroke="none"/>
<rect x="476.6" y="282.6" width="19.6" height="15.2" fill="#fff" stroke="none"/>
<rect x="237.0" y="306.3" width="19.6" height="15.2" fill="#fff" stroke="none"/>
<rect x="329.2" y="345.2" width="19.6" height="15.2" fill="#fff" stroke="none"/>
<rect x="348.7" y="377.5" width="19.6" height="15.2" fill="#fff" stroke="none"/>
<rect x="425.2" y="272.6" width="19.6" height="15.2" fill="#fff" stroke="none"/>
<rect x="258.9" y="394.9" width="19.6" height="15.2" fill="#fff" stroke="none"/>
<rect x="161.8" y="376.8" width="10.7" height="15.2" fill="#fff" stroke="none"/>
<rect x="56.2" y="387.3" width="19.6" height="15.2" fill="#fff" stroke="none"/>
<rect x="41.2" y="403.5" width="19.6" height="15.2" fill="#fff" stroke="none"/>
<rect x="4.0" y="432.6" width="19.6" height="15.2" fill="#fff" stroke="none"/>
<rect x="17.9" y="460.4" width="10.7" height="15.2" fill="#fff" stroke="none"/>
<rect x="255.1" y="449.0" width="10.7" height="15.2" fill="#fff" stroke="none"/>
<rect x="299.3" y="500.7" width="19.6" height="15.2" fill="#fff" stroke="none"/>
<rect x="370.4" y="452.3" width="19.6" height="15.2" fill="#fff" stroke="none"/>
<text x="221.4" y="573.2" font-size="16" >3</text>
<path d="M252.05,85.10 L253.85,85.10 L253.85,73.60 L252.50,73.60 C251.90,74.90 250.70,75.90 249.20,76.60 L249.20,78.10 C250.30,77.70 251.30,77.10 252.05,76.30 Z" fill="#1c1c1c" stroke="none"/>
<text x="256.8" y="85.1" font-size="16" >0</text>
<text x="219.0" y="121.5" font-size="16" >2</text>
<path d="M232.05,121.50 L233.85,121.50 L233.85,110.00 L232.50,110.00 C231.90,111.30 230.70,112.30 229.20,113.00 L229.20,114.50 C230.30,114.10 231.30,113.50 232.05,112.70 Z" fill="#1c1c1c" stroke="none"/>
<text x="208.4" y="141.2" font-size="16" >2</text>
<text x="217.3" y="141.2" font-size="16" >2</text>
<path d="M371.25,30.50 L373.05,30.50 L373.05,19.00 L371.70,19.00 C371.10,20.30 369.90,21.30 368.40,22.00 L368.40,23.50 C369.50,23.10 370.50,22.50 371.25,21.70 Z" fill="#1c1c1c" stroke="none"/>
<text x="376.0" y="30.5" font-size="16" >9</text>
<text x="389.5" y="61" font-size="16" >9</text>
<path d="M405.35,75.10 L407.15,75.10 L407.15,63.60 L405.80,63.60 C405.20,64.90 404.00,65.90 402.50,66.60 L402.50,68.10 C403.60,67.70 404.60,67.10 405.35,66.30 Z" fill="#1c1c1c" stroke="none"/>
<text x="410.1" y="75.1" font-size="16" >9</text>
<path d="M461.05,10.60 L462.85,10.60 L462.85,-0.90 L461.50,-0.90 C460.90,0.40 459.70,1.40 458.20,2.10 L458.20,3.60 C459.30,3.20 460.30,2.60 461.05,1.80 Z" fill="#1c1c1c" stroke="none"/>
<text x="465.8" y="10.6" font-size="16" >4</text>
<text x="522.9" y="38.3" font-size="16" >7</text>
<path d="M480.15,105.90 L481.95,105.90 L481.95,94.40 L480.60,94.40 C480.00,95.70 478.80,96.70 477.30,97.40 L477.30,98.90 C478.40,98.50 479.40,97.90 480.15,97.10 Z" fill="#1c1c1c" stroke="none"/>
<text x="484.9" y="105.9" font-size="16" >9</text>
<text x="501.8" y="129.8" font-size="16" >9</text>
<path d="M513.95,151.60 L515.75,151.60 L515.75,140.10 L514.40,140.10 C513.80,141.40 512.60,142.40 511.10,143.10 L511.10,144.60 C512.20,144.20 513.20,143.60 513.95,142.80 Z" fill="#1c1c1c" stroke="none"/>
<text x="518.7" y="151.6" font-size="16" >9</text>
<text x="545.6" y="166.6" font-size="16" >7</text>
<path d="M529.25,63.30 L531.05,63.30 L531.05,51.80 L529.70,51.80 C529.10,53.10 527.90,54.10 526.40,54.80 L526.40,56.30 C527.50,55.90 528.50,55.30 529.25,54.50 Z" fill="#1c1c1c" stroke="none"/>
<text x="534.0" y="63.3" font-size="16" >4</text>
<text x="563.4" y="31.9" font-size="16" >6</text>
<text x="613.4" y="62.8" font-size="16" >8</text>
<path d="M661.45,107.40 L663.25,107.40 L663.25,95.90 L661.90,95.90 C661.30,97.20 660.10,98.20 658.60,98.90 L658.60,100.40 C659.70,100.00 660.70,99.40 661.45,98.60 Z" fill="#1c1c1c" stroke="none"/>
<text x="666.2" y="107.4" font-size="16" >7</text>
<path d="M663.55,163.50 L665.35,163.50 L665.35,152.00 L664.00,152.00 C663.40,153.30 662.20,154.30 660.70,155.00 L660.70,156.50 C661.80,156.10 662.80,155.50 663.55,154.70 Z" fill="#1c1c1c" stroke="none"/>
<text x="668.3" y="163.5" font-size="16" >6</text>
<text x="657.4" y="182.4" font-size="16" >9</text>
<path d="M368.05,224.90 L369.85,224.90 L369.85,213.40 L368.50,213.40 C367.90,214.70 366.70,215.70 365.20,216.40 L365.20,217.90 C366.30,217.50 367.30,216.90 368.05,216.10 Z" fill="#1c1c1c" stroke="none"/>
<path d="M376.95,224.90 L378.75,224.90 L378.75,213.40 L377.40,213.40 C376.80,214.70 375.60,215.70 374.10,216.40 L374.10,217.90 C375.20,217.50 376.20,216.90 376.95,216.10 Z" fill="#1c1c1c" stroke="none"/>
<path d="M470.85,391.70 L472.65,391.70 L472.65,380.20 L471.30,380.20 C470.70,381.50 469.50,382.50 468.00,383.20 L468.00,384.70 C469.10,384.30 470.10,383.70 470.85,382.90 Z" fill="#1c1c1c" stroke="none"/>
<text x="475.6" y="391.7" font-size="16" >2</text>
<path d="M481.55,296.20 L483.35,296.20 L483.35,284.70 L482.00,284.70 C481.40,286.00 480.20,287.00 478.70,287.70 L478.70,289.20 C479.80,288.80 480.80,288.20 481.55,287.40 Z" fill="#1c1c1c" stroke="none"/>
<text x="486.3" y="296.2" font-size="16" >3</text>
<path d="M241.95,319.90 L243.75,319.90 L243.75,308.40 L242.40,308.40 C241.80,309.70 240.60,310.70 239.10,311.40 L239.10,312.90 C240.20,312.50 241.20,311.90 241.95,311.10 Z" fill="#1c1c1c" stroke="none"/>
<path d="M250.85,319.90 L252.65,319.90 L252.65,308.40 L251.30,308.40 C250.70,309.70 249.50,310.70 248.00,311.40 L248.00,312.90 C249.10,312.50 250.10,311.90 250.85,311.10 Z" fill="#1c1c1c" stroke="none"/>
<path d="M334.15,358.80 L335.95,358.80 L335.95,347.30 L334.60,347.30 C334.00,348.60 332.80,349.60 331.30,350.30 L331.30,351.80 C332.40,351.40 333.40,350.80 334.15,350.00 Z" fill="#1c1c1c" stroke="none"/>
<text x="338.9" y="358.8" font-size="16" >2</text>
<path d="M353.65,391.10 L355.45,391.10 L355.45,379.60 L354.10,379.60 C353.50,380.90 352.30,381.90 350.80,382.60 L350.80,384.10 C351.90,383.70 352.90,383.10 353.65,382.30 Z" fill="#1c1c1c" stroke="none"/>
<text x="358.4" y="391.1" font-size="16" >3</text>
<path d="M430.15,286.20 L431.95,286.20 L431.95,274.70 L430.60,274.70 C430.00,276.00 428.80,277.00 427.30,277.70 L427.30,279.20 C428.40,278.80 429.40,278.20 430.15,277.40 Z" fill="#1c1c1c" stroke="none"/>
<text x="434.9" y="286.2" font-size="16" >2</text>
<path d="M263.85,408.50 L265.65,408.50 L265.65,397.00 L264.30,397.00 C263.70,398.30 262.50,399.30 261.00,400.00 L261.00,401.50 C262.10,401.10 263.10,400.50 263.85,399.70 Z" fill="#1c1c1c" stroke="none"/>
<text x="268.6" y="408.5" font-size="16" >2</text>
<path d="M166.75,390.40 L168.55,390.40 L168.55,378.90 L167.20,378.90 C166.60,380.20 165.40,381.20 163.90,381.90 L163.90,383.40 C165.00,383.00 166.00,382.40 166.75,381.60 Z" fill="#1c1c1c" stroke="none"/>
<path d="M61.15,400.90 L62.95,400.90 L62.95,389.40 L61.60,389.40 C61.00,390.70 59.80,391.70 58.30,392.40 L58.30,393.90 C59.40,393.50 60.40,392.90 61.15,392.10 Z" fill="#1c1c1c" stroke="none"/>
<text x="65.9" y="400.9" font-size="16" >5</text>
<path d="M46.15,417.10 L47.95,417.10 L47.95,405.60 L46.60,405.60 C46.00,406.90 44.80,407.90 43.30,408.60 L43.30,410.10 C44.40,409.70 45.40,409.10 46.15,408.30 Z" fill="#1c1c1c" stroke="none"/>
<text x="50.9" y="417.1" font-size="16" >7</text>
<path d="M8.95,446.20 L10.75,446.20 L10.75,434.70 L9.40,434.70 C8.80,436.00 7.60,437.00 6.10,437.70 L6.10,439.20 C7.20,438.80 8.20,438.20 8.95,437.40 Z" fill="#1c1c1c" stroke="none"/>
<text x="13.7" y="446.2" font-size="16" >6</text>
<text x="19.7" y="474" font-size="16" >4</text>
<path d="M260.05,462.60 L261.85,462.60 L261.85,451.10 L260.50,451.10 C259.90,452.40 258.70,453.40 257.20,454.10 L257.20,455.60 C258.30,455.20 259.30,454.60 260.05,453.80 Z" fill="#1c1c1c" stroke="none"/>
<path d="M304.25,514.30 L306.05,514.30 L306.05,502.80 L304.70,502.80 C304.10,504.10 302.90,505.10 301.40,505.80 L301.40,507.30 C302.50,506.90 303.50,506.30 304.25,505.50 Z" fill="#1c1c1c" stroke="none"/>
<text x="309.0" y="514.3" font-size="16" >2</text>
<path d="M375.35,465.90 L377.15,465.90 L377.15,454.40 L375.80,454.40 C375.20,455.70 374.00,456.70 372.50,457.40 L372.50,458.90 C373.60,458.50 374.60,457.90 375.35,457.10 Z" fill="#1c1c1c" stroke="none"/>
<text x="380.1" y="465.9" font-size="16" >2</text>
<rect x="596.6" y="230.1" width="10.4" height="19.5" rx="2" fill="#c3cbef" stroke="#a3ace3" stroke-width="0.9"/>
<text x="596" y="244.9" font-size="16" style="fill:#1d2454">2</text>
<path d="M235.2,573.2 L241.0,573.2 L248.0,576.6" stroke-width="1.1" />
<path d="M269.3,85.1 L276.2,85.1 L283.2,98.3" stroke-width="1.1" />
<path d="M241.4,121.5 L247.8,121.5 L247.8,179.0" stroke-width="1.1" />
<path d="M229.8,141.2 L236.8,141.2 L236.8,169.5" stroke-width="1.1" />
<path d="M389.0,30.1 L395.1,30.1 L406.8,11.3" stroke-width="1.1" />
<path d="M402.6,61.2 L408.7,61.2 L420.4,43.2" stroke-width="1.1" />
<path d="M422.8,75.1 L428.9,75.1 L438.2,57.8" stroke-width="1.1" />
<path d="M496.9,105.9 L502.8,105.9 L514.8,87.0" stroke-width="1.1" />
<path d="M515.8,129.4 L522.7,129.4 L529.7,119.8" stroke-width="1.1" />
<path d="M530.7,150.6 L536.7,150.6 L546.6,133.7" stroke-width="1.1" />
<path d="M558.6,166.0 L567.5,166.0 L572.5,156.6" stroke-width="1.1" />
<path d="M576.8,31.8 L584.7,31.8 L593.7,37.8" stroke-width="1.1" />
<path d="M608.6,63.2 L602.6,63.2 L601.6,68.6" stroke-width="1.1" />
<path d="M652.5,107.8 L645.5,107.8 L645.5,125.7" stroke-width="1.1" />
<path d="M645.5,107.8 L636.6,139.7" stroke-width="1.1" />
<path d="M653.5,164.5 L648.5,164.5 L648.5,148.6" stroke-width="1.1" />
<path d="M648.5,164.5 L665.4,143.6" stroke-width="1.1" />
<path d="M653.5,182.4 L647.5,182.4 L607.7,158.5" stroke-width="1.1" />
<path d="M324.9,358.8 L318.8,358.8 L312.1,347.4" stroke-width="1.1" />
<path d="M344.4,391.1 L338.4,391.1 L338.4,375.0" stroke-width="1.1" />
<path d="M473.0,296.2 L466.3,296.2 L466.3,282.7" stroke-width="1.1" />
<path d="M462.3,391.3 L455.4,391.3 L450.5,381.5" stroke-width="1.1" />
<path d="M296.0,513.8 L289.4,513.8 L283.2,504.2" stroke-width="1.1" />
<path d="M366.7,465.3 L360.1,465.3 L354.5,456.0" stroke-width="1.1" />
<path d="M269.4,461.7 L277.7,461.7 L286.0,473.0" stroke-width="1.1" />
<path d="M173.0,389.8 L181.0,389.8 L188.8,401.4" stroke-width="1.1" />
<path d="M255.2,408.4 L248.7,408.4 L243.1,398.0" stroke-width="1.1" />
<path d="M77.8,400.9 L85.9,400.9 L94.0,414.8" stroke-width="1.1" />
<path d="M63.8,416.0 L70.8,416.0 L76.6,426.4" stroke-width="1.1" />
<path d="M25.5,446.2 L31.3,446.2 L36.0,450.8" stroke-width="1.1" />
<path d="M31.3,474.0 L37.1,474.0 L45.3,477.5" stroke-width="1.1" />
<path d="M591.9,244.6 L585.5,244.6 L575.0,226.4" stroke-width="1.1" />
<path d="M409.8,275.7 L414.8,285.0 L422.0,285.0" stroke-width="1.1" />
<path d="M446.0,29.2 L446.0,10.4 L451.0,10.4" stroke-width="1.1" />
<path d="M495.7,28.5 L511.6,38.5 L518.3,38.5" stroke-width="1.1" />
</g></svg></body></html>
